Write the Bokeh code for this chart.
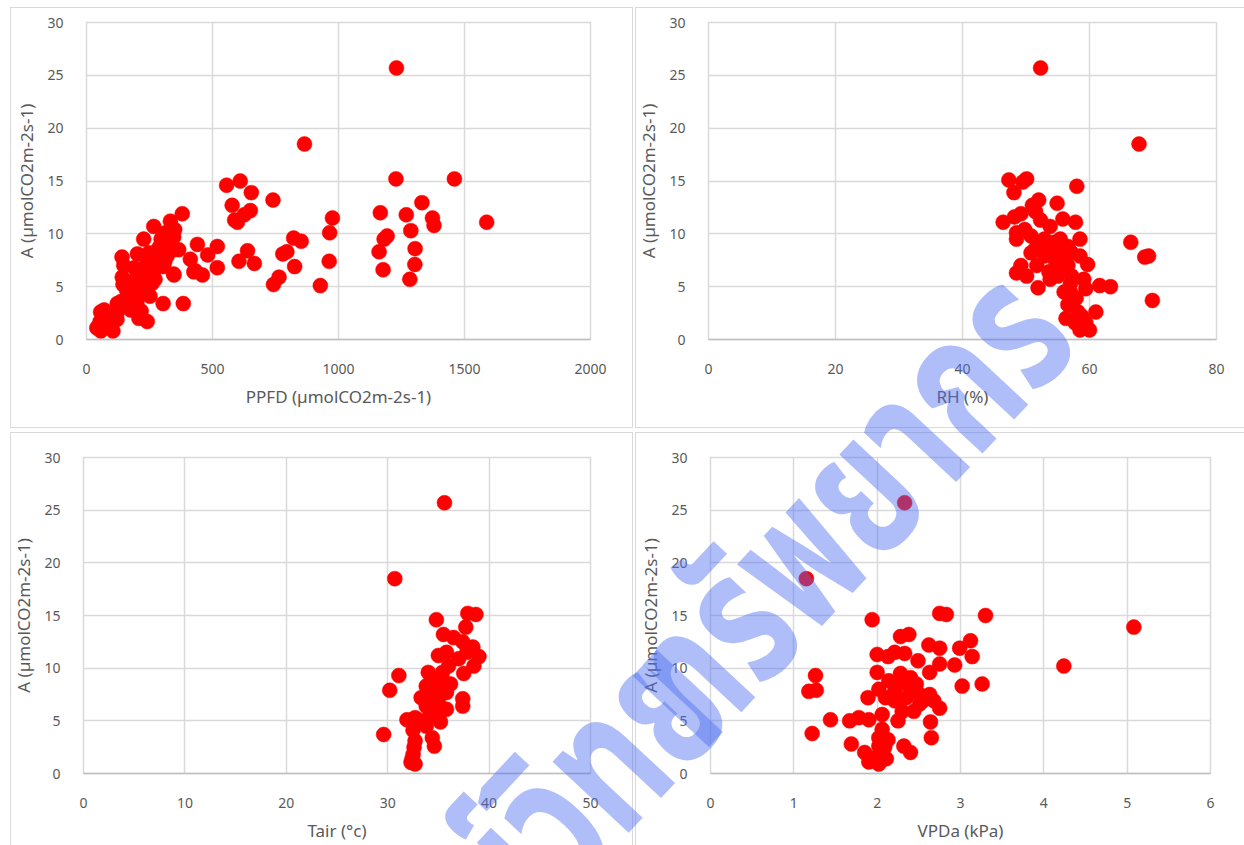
from bokeh.plotting import figure
from bokeh.layouts import column, row
from bokeh.models import Range1d, FixedTicker, Div
from bokeh.embed import file_html
from bokeh.resources import INLINE

# ---------------- data ----------------
A_LABEL = "A (µmolCO2m-2s-1)"
y_ticks = [0, 5, 10, 15, 20, 25, 30]

ppfd_label = "PPFD (µmolCO2m-2s-1)"
ppfd_ticks = [0, 500, 1000, 1500, 2000]
ppfd_x = [1230, 865, 1228, 1460, 556, 610, 654, 740, 578, 1331, 650, 626, 588, 599,
          1166, 1269, 1373, 1379, 1588, 976, 965, 1287, 1193, 1181, 822, 852, 795, 779,
          639, 1161, 1304, 1303, 963, 666, 605, 826, 1177, 1283, 764, 742, 928, 519,
          481, 519, 440, 460, 432, 412, 380, 384, 304, 347, 333, 267, 227, 350, 344,
          366, 314, 296, 248, 202, 141, 148, 142, 145, 200, 232, 264, 304, 272, 224,
          185, 169, 208, 252, 200, 177, 137, 129, 217, 208, 241, 121, 89, 70, 54, 41,
          57, 105, 73, 121, 49, 56, 280, 320, 325, 288, 264, 240, 300, 346, 148, 175,
          122, 346, 426, 159, 190, 230, 260, 95, 165, 215, 280, 310, 255, 190]
ppfd_a = [25.7, 18.5, 15.2, 15.2, 14.6, 15.0, 13.9, 13.2, 12.7, 12.95, 12.2, 11.8, 11.3, 11.1,
          12.0, 11.8, 11.5, 10.8, 11.1, 11.5, 10.1, 10.3, 9.8, 9.5, 9.6, 9.3, 8.3, 8.1,
          8.4, 8.3, 8.6, 7.1, 7.4, 7.2, 7.4, 6.9, 6.6, 5.7, 5.9, 5.2, 5.1, 8.8,
          8.0, 6.8, 9.0, 6.1, 6.5, 7.6, 11.9, 3.4, 3.4, 6.1, 11.2, 10.7, 9.5, 10.4, 8.5,
          8.5, 10.1, 9.5, 8.2, 8.1, 7.8, 7.0, 5.9, 5.2, 6.0, 6.6, 6.9, 6.9, 5.7, 5.5,
          5.0, 4.4, 4.4, 4.1, 3.5, 3.8, 3.6, 3.0, 2.7, 2.0, 1.7, 2.5, 2.2, 2.8, 1.7, 1.1,
          0.8, 0.8, 1.4, 1.9, 1.3, 2.6, 7.6, 7.9, 9.1, 8.7, 6.0, 7.4, 9.25, 9.7, 5.6, 2.8,
          3.4, 6.2, 6.4, 4.7, 4.0, 5.0, 5.3, 1.6, 4.1, 5.8, 8.0, 7.3, 6.3, 6.8]

rh_label = "RH (%)"
rh_ticks = [0, 20, 40, 60, 80]
rh_x = [52.3, 67.8, 47.3, 50.1, 49.5, 48.1, 58.0, 52.0, 51.0, 54.9, 46.4, 48.2, 49.2, 51.5,
        52.3, 53.8, 55.8, 57.8, 48.5, 48.5, 49.8, 55.4, 58.5, 66.5, 68.7, 69.3, 69.9, 61.6,
        63.3, 59.7, 61.0, 51.6, 52.9, 49.2, 48.5, 50.1, 51.9, 53.8, 54.7, 54.1, 56.0, 57.2,
        58.5, 56.6, 55.4, 57.2, 59.1, 59.4, 57.9, 56.6, 58.2, 56.3, 57.7, 58.5, 60.0, 59.4,
        58.8, 57.0, 52.9, 50.8, 51.7, 53.6, 55.0, 54.4, 56.6, 50.8, 56.0, 57.0, 53.0, 55.5]
rh_a = [25.7, 18.5, 15.1, 15.2, 14.9, 13.9, 14.5, 13.2, 12.7, 12.9, 11.1, 11.6, 11.9, 12.1,
        11.3, 10.7, 11.4, 11.1, 10.1, 9.5, 10.4, 9.5, 9.5, 9.2, 7.8, 7.9, 3.7, 5.1,
        5.0, 7.1, 2.6, 8.7, 7.9, 7.0, 6.3, 6.0, 4.9, 5.7, 7.3, 8.2, 8.5, 8.2,
        7.9, 7.0, 6.7, 6.0, 5.7, 4.8, 3.9, 3.3, 2.6, 2.0, 1.6, 0.9, 0.9, 1.6,
        2.2, 4.5, 9.5, 8.2, 7.0, 6.4, 6.0, 9.2, 8.8, 9.8, 4.5, 5.3, 8.9, 7.6]

tair_label = "Tair (°c)"
tair_ticks = [0, 10, 20, 30, 40, 50]
tair_x = [35.6, 30.7, 29.6, 30.2, 31.1, 34.8, 37.9, 38.7, 37.7, 35.5, 36.5, 37.4, 38.4, 39.0,
          37.8, 35.0, 35.8, 37.0, 38.5, 37.5, 34.0, 35.4, 36.2, 33.8, 34.6, 33.3, 37.4, 37.4,
          35.8, 35.0, 33.8, 34.2, 35.2, 31.9, 32.7, 33.5, 32.5, 34.4, 34.6, 32.7, 32.6, 32.5,
          32.4, 32.7, 32.3, 34.7, 34.4, 35.0, 34.2, 35.8, 35.4, 36.0, 34.9, 33.8, 34.5, 35.2]
tair_a = [25.7, 18.5, 3.7, 7.9, 9.3, 14.6, 15.2, 15.1, 13.9, 13.2, 12.9, 12.5, 12.0, 11.1,
          11.5, 11.2, 11.5, 10.9, 10.2, 9.5, 9.6, 9.6, 8.5, 8.3, 7.7, 7.2, 7.1, 6.4,
          6.1, 6.4, 6.4, 5.5, 4.9, 5.1, 5.3, 5.0, 4.1, 3.4, 2.6, 3.1, 2.5, 1.8,
          1.4, 0.9, 1.05, 8.7, 9.0, 7.0, 7.4, 7.7, 8.9, 10.2, 5.8, 4.5, 6.8, 8.0]

vpd_label = "VPDa (kPa)"
vpd_ticks = [0, 1, 2, 3, 4, 5, 6]
vpd_x = [2.33, 1.15, 1.94, 2.75, 2.83, 3.30, 5.08, 4.24, 2.28, 2.38, 2.62, 2.75, 2.99, 3.12,
         3.14, 2.93, 2.75, 2.00, 2.13, 2.21, 2.33, 2.49, 2.00, 2.28, 2.63, 1.26, 1.18, 1.27,
         3.02, 3.26, 1.22, 1.44, 1.67, 1.78, 1.90, 1.69, 1.89, 2.02, 2.14, 2.30, 2.40, 2.51,
         2.63, 2.68, 2.75, 2.64, 2.65, 2.44, 2.25, 2.06, 2.21, 2.35, 2.51, 2.10, 2.30, 2.06,
         2.02, 2.13, 2.02, 2.09, 1.85, 1.95, 2.02, 2.11, 1.90, 2.32, 2.40, 2.02, 2.47, 2.40,
         2.55, 2.21]
vpd_a = [25.7, 18.5, 14.6, 15.2, 15.1, 15.0, 13.9, 10.2, 13.0, 13.2, 12.2, 11.9, 11.9, 12.6,
         11.1, 10.3, 10.4, 11.3, 11.1, 11.5, 11.4, 10.7, 9.6, 9.5, 9.6, 9.3, 7.8, 7.9,
         8.3, 8.5, 3.8, 5.1, 5.0, 5.3, 5.1, 2.8, 7.2, 8.0, 8.8, 8.6, 7.8, 7.5,
         7.5, 6.9, 6.2, 4.9, 3.4, 5.9, 5.0, 5.6, 6.9, 7.2, 6.6, 7.2, 5.9, 4.2,
         3.4, 3.2, 2.6, 2.5, 2.0, 1.2, 0.9, 1.4, 1.1, 2.6, 2.0, 1.8, 8.5, 9.1,
         6.9, 7.8]

watermark_head = "ศูนย์วิทย"
watermark_tail = "ทรัพยากร"

# ---------------- styling ----------------
GRID = "#d9d9d9"
TEXT = "#595959"
FONT = "Noto Sans"


def panel(xs, ys, xticks, xlabel, w, h, left, right, top, bottom):
    p = figure(width=w, height=h, output_backend="svg", toolbar_location=None,
               x_range=Range1d(xticks[0], xticks[-1]), y_range=Range1d(0, 30),
               min_border_left=left, min_border_right=right,
               min_border_top=top, min_border_bottom=bottom)
    p.outline_line_color = GRID
    p.outline_line_width = 1.5
    p.background_fill_color = "white"
    p.border_fill_color = "white"
    p.xaxis.ticker = FixedTicker(ticks=xticks)
    p.yaxis.ticker = FixedTicker(ticks=y_ticks)
    for g in (p.xgrid, p.ygrid):
        g.grid_line_color = GRID
        g.grid_line_width = 1.5
    p.xaxis.axis_line_color = "#bfbfbf"
    p.xaxis.axis_line_width = 1.5
    p.yaxis.axis_line_color = None
    for ax in (p.xaxis, p.yaxis):
        ax.major_tick_line_color = None
        ax.minor_tick_line_color = None
        ax.major_label_text_color = TEXT
        ax.major_label_text_font = FONT
        ax.major_label_text_font_size = "14px"
        ax.axis_label_text_color = TEXT
        ax.axis_label_text_font = FONT
        ax.axis_label_text_font_size = "17px"
        ax.axis_label_text_font_style = "normal"
    p.xaxis.major_label_standoff = 18
    p.yaxis.major_label_standoff = 17
    p.xaxis.axis_label_standoff = 8
    p.yaxis.axis_label_standoff = 6
    p.xaxis.axis_label = xlabel
    p.yaxis.axis_label = A_LABEL
    p.scatter(xs, ys, size=15, fill_color="#ff0000", line_color="#ff0000", line_width=0.5)
    return p


def box(left, top, width, height):
    return Div(text="", styles={
        "position": "absolute", "left": f"{left}px", "top": f"{top}px",
        "width": f"{width}px", "height": f"{height}px",
        "border": f"1px solid {GRID}", "box-sizing": "border-box",
        "pointer-events": "none", "z-index": "5"})


WM_FS = 190
WM_BASE = 152


def wm(text, start, width):
    # start = page position of the left end of the text baseline (rotation pivot)
    return Div(text=text, styles={
        "position": "absolute",
        "left": f"{start[0]}px", "top": f"{start[1] - WM_BASE}px",
        "width": f"{width}px", "height": f"{WM_FS}px",
        "white-space": "nowrap", "overflow": "visible",
        "font-family": "Noto Sans Thai, Tlwg Typo, Loma, Garuda, sans-serif",
        "font-size": f"{WM_FS}px", "font-weight": "bold", "line-height": "1",
        "color": "rgba(77, 110, 240, 0.45)",
        "transform-origin": f"0px {WM_BASE}px",
        "transform": "rotate(-47deg) scaleX(0.72)",
        "pointer-events": "none", "z-index": "10"})


p1 = panel(ppfd_x, ppfd_a, ppfd_ticks, ppfd_label, 628, 425, 86, 38, 22, 86)
p2 = panel(rh_x, rh_a, rh_ticks, rh_label, 616, 425, 80, 28, 19, 83)
p3 = panel(tair_x, tair_a, tair_ticks, tair_label, 628, 420, 83, 38, 32, 72)
p4 = panel(vpd_x, vpd_a, vpd_ticks, vpd_label, 616, 420, 82, 34, 32, 71)

layout = column(row(p1, p2), row(p3, p4),
                box(5, 2, 623, 421), box(630, 2, 613, 421),
                box(5, 427, 623, 430), box(630, 427, 613, 430),
                wm(watermark_head, (388, 1079), 800),
                wm(watermark_tail, (696, 749), 1000))
open("out.html", "w").write(file_html(layout, INLINE))
